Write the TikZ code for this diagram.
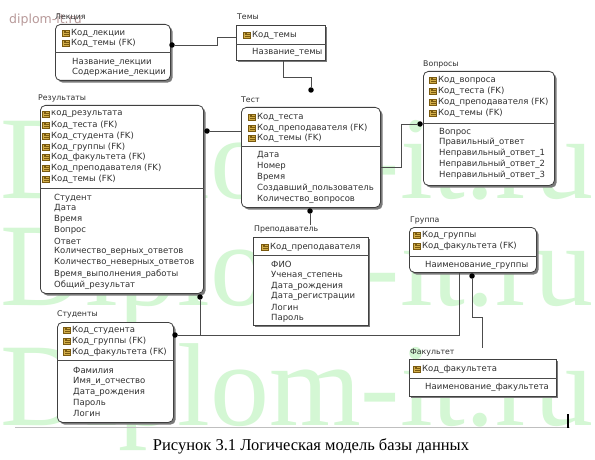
\documentclass[tikz,border=0pt]{standalone}
\usepackage{fontspec}
\setmainfont{DejaVu Sans}
\newfontfamily\capfont{Liberation Serif}
\usetikzlibrary{calc,shadows}
\definecolor{txt}{HTML}{303030}
\definecolor{keyg}{HTML}{D2AE4A}
\definecolor{keyd}{HTML}{7A5A10}
\definecolor{wm}{HTML}{D4F7D4}
\definecolor{shad}{HTML}{7A7A7A}
\definecolor{wmsmall}{HTML}{B89A9A}
\begin{document}
\begin{tikzpicture}[x=1pt,y=-1pt,
  ent/.style={draw=black!75, line width=0.8pt, fill=white, rounded corners=5pt, anchor=north west, inner sep=0,
     drop shadow={shadow xshift=2.2pt, shadow yshift=-2.2pt, fill=shad, opacity=1}},
  sqent/.style={draw=black!75, line width=0.6pt, fill=white, anchor=north west, inner sep=0,
     drop shadow={shadow xshift=1.5pt, shadow yshift=-1.5pt, fill=shad, opacity=1}},
  sep/.style={draw=black!70, line width=0.6pt},
  lbl/.style={anchor=west, inner sep=0, font=\fontsize{7.8}{9}\selectfont, text=txt},
  fld/.style={anchor=west, inner sep=0, font=\fontsize{8.5}{10}\selectfont, text=txt},
  rel/.style={draw=black!70, line width=0.8pt},
  dot/.style={circle, fill=black, inner sep=0, minimum size=5.5pt},
  keyicon/.pic={
    \fill[keyg, draw=keyd, line width=0.3pt] (-3.5,-3) rectangle (3.5,3);
    \fill[keyd] (-2.2,-1.6) rectangle (0.2,0.4);
    \fill[keyd] (0.2,-0.9) rectangle (2.6,-0.1);
    \fill[keyd] (-2.2,1.2) rectangle (2.6,2);
  }]
\useasboundingbox (0,0) rectangle (595,460);
\fill[white] (0,0) rectangle (595,460);
% watermark
\node[anchor=base west, inner sep=0, text=wm, font=\capfont\fontsize{118}{118}\selectfont] (wm1) at (0,198) {Diplom-it.ru};
\node[anchor=base west, inner sep=0, text=wm, font=\capfont\fontsize{118}{118}\selectfont] (wm2) at (0,305) {Diplom-it.ru};
\node[anchor=base west, inner sep=0, text=wm, font=\capfont\fontsize{118}{118}\selectfont] (wm3) at (0,425) {Diplom-it.ru};
\node[anchor=west, inner sep=0, text=wmsmall, font=\fontsize{12.5}{14}\selectfont] (wm0) at (9,20) {diplom-it.ru};

% ---- boxes
\node[ent, minimum width=115pt, minimum height=56pt] (lek) at (55,24) {};
\node[sqent, minimum width=89pt, minimum height=35pt] (tem) at (236,25) {};
\node[ent, minimum width=163pt, minimum height=188pt] (res) at (40,105) {};
\node[ent, minimum width=139pt, minimum height=100pt] (tst) at (241,107) {};
\node[ent, minimum width=131pt, minimum height=114pt] (vop) at (423,71) {};
\node[sqent, minimum width=115pt, minimum height=88pt] (pre) at (253,237) {};
\node[ent, minimum width=127pt, minimum height=45pt] (grp) at (409,227) {};
\node[sqent, minimum width=147pt, minimum height=37pt] (fak) at (409,359) {};
\node[ent, minimum width=116pt, minimum height=100pt] (stu) at (57,322) {};

% ---- separators
\draw[sep] (lek.west |- 0,52) -- (lek.east |- 0,52);
\draw[sep] (tem.west |- 0,44) -- (tem.east |- 0,44);
\draw[sep] (res.west |- 0,188) -- (res.east |- 0,188);
\draw[sep] (tst.west |- 0,146) -- (tst.east |- 0,146);
\draw[sep] (vop.west |- 0,123) -- (vop.east |- 0,123);
\draw[sep] (pre.west |- 0,255) -- (pre.east |- 0,255);
\draw[sep] (grp.west |- 0,256) -- (grp.east |- 0,256);
\draw[sep] (fak.west |- 0,378) -- (fak.east |- 0,378);
\draw[sep] (stu.west |- 0,360) -- (stu.east |- 0,360);

% ---- titles
\node[lbl] (lekT) at (55,17) {Лекция};
\node[lbl] (temT) at (237,17) {Темы};
\node[lbl] (resT) at (38,98) {Результаты};
\node[lbl] (tstT) at (241,100) {Тест};
\node[lbl] (vopT) at (423,64) {Вопросы};
\node[lbl] (preT) at (254,229) {Преподаватель};
\node[lbl] (grpT) at (410,220) {Группа};
\node[lbl] (fakT) at (410,352) {Факультет};
\node[lbl] (stuT) at (57,314) {Студенты};

% ---- Лекция
\pic at (66,33) {keyicon}; \node[fld] (l1) at (71,33) {Код\_лекции};
\pic at (66,43) {keyicon}; \node[fld] (l2) at (71,43) {Код\_темы (FK)};
\node[fld] (l3) at (72,62) {Название\_лекции};
\node[fld] (l4) at (72,72) {Содержание\_лекции};
% ---- Темы
\pic at (247,35) {keyicon}; \node[fld] (t1) at (252,35) {Код\_темы};
\node[fld] (t2) at (252,52) {Название\_темы};
% ---- Результаты
\pic at (46,114) {keyicon}; \node[fld] (r1) at (51,114) {код\_результата};
\pic at (46,125) {keyicon}; \node[fld] (r2) at (51,125) {Код\_теста (FK)};
\pic at (46,136) {keyicon}; \node[fld] (r3) at (51,136) {Код\_студента (FK)};
\pic at (46,147) {keyicon}; \node[fld] (r4) at (51,147) {Код\_группы (FK)};
\pic at (46,157) {keyicon}; \node[fld] (r5) at (51,157) {Код\_факультета (FK)};
\pic at (46,168) {keyicon}; \node[fld] (r6) at (51,168) {Код\_преподавателя (FK)};
\pic at (46,179) {keyicon}; \node[fld] (r7) at (51,179) {Код\_темы (FK)};
\node[fld] (r8) at (54,198) {Студент};
\node[fld] (r9) at (54,208) {Дата};
\node[fld] (r10) at (54,219) {Время};
\node[fld] (r11) at (54,230) {Вопрос};
\node[fld] (r12) at (54,241) {Ответ};
\node[fld] (r13) at (54,251) {Количество\_верных\_ответов};
\node[fld] (r14) at (54,262) {Количество\_неверных\_ответов};
\node[fld] (r15) at (54,274) {Время\_выполнения\_работы};
\node[fld] (r16) at (54,285) {Общий\_результат};
% ---- Тест
\pic at (252,117) {keyicon}; \node[fld] (s1) at (257,117) {Код\_теста};
\pic at (252,128) {keyicon}; \node[fld] (s2) at (257,128) {Код\_преподавателя (FK)};
\pic at (252,138) {keyicon}; \node[fld] (s3) at (257,138) {Код\_темы (FK)};
\node[fld] (s4) at (257,155) {Дата};
\node[fld] (s5) at (257,166) {Номер};
\node[fld] (s6) at (257,177) {Время};
\node[fld] (s7) at (257,188) {Создавший\_пользователь};
\node[fld] (s8) at (257,199) {Количество\_вопросов};
% ---- Вопросы
\pic at (433,80) {keyicon}; \node[fld] (v1) at (438,80) {Код\_вопроса};
\pic at (433,91) {keyicon}; \node[fld] (v2) at (438,91) {Код\_теста (FK)};
\pic at (433,102) {keyicon}; \node[fld] (v3) at (438,102) {Код\_преподавателя (FK)};
\pic at (433,113) {keyicon}; \node[fld] (v4) at (438,113) {Код\_темы (FK)};
\node[fld] (v5) at (439,132) {Вопрос};
\node[fld] (v6) at (439,142) {Правильный\_ответ};
\node[fld] (v7) at (439,153) {Неправильный\_ответ\_1};
\node[fld] (v8) at (439,164) {Неправильный\_ответ\_2};
\node[fld] (v9) at (439,175) {Неправильный\_ответ\_3};
% ---- Преподаватель
\pic at (265,247) {keyicon}; \node[fld] (p1) at (270,247) {Код\_преподавателя};
\node[fld] (p2) at (271,264) {ФИО};
\node[fld] (p3) at (271,275) {Ученая\_степень};
\node[fld] (p4) at (271,286) {Дата\_рождения};
\node[fld] (p5) at (271,296) {Дата\_регистрации};
\node[fld] (p6) at (271,307) {Логин};
\node[fld] (p7) at (271,318) {Пароль};
% ---- Группа
\pic at (417,235) {keyicon}; \node[fld] (g1) at (422,235) {Код\_группы};
\pic at (417,246) {keyicon}; \node[fld] (g2) at (422,246) {Код\_факультета (FK)};
\node[fld] (g3) at (425,265) {Наименование\_группы};
% ---- Факультет
\pic at (417,369) {keyicon}; \node[fld] (f1) at (422,369) {Код\_факультета};
\node[fld] (f2) at (425,387) {Наименование\_факультета};
% ---- Студенты
\pic at (67,330) {keyicon}; \node[fld] (u1) at (72,330) {Код\_студента};
\pic at (67,341) {keyicon}; \node[fld] (u2) at (72,341) {Код\_группы (FK)};
\pic at (67,352) {keyicon}; \node[fld] (u3) at (72,352) {Код\_факультета (FK)};
\node[fld] (u4) at (73,370) {Фамилия};
\node[fld] (u5) at (73,381) {Имя\_и\_отчество};
\node[fld] (u6) at (73,392) {Дата\_рождения};
\node[fld] (u7) at (73,403) {Пароль};
\node[fld] (u8) at (73,413) {Логин};

% ---- connectors
\node[dot] (d1) at (172,45) {};
\draw[rel] (d1) -- (217,45) -- (217,37) -- (tem.west |- 0,37);
\node[dot] (d2) at (311,90) {};
\draw[rel] (tem.south -| 283,0) -- (283,77) -- (311,77) -- (d2);
\node[dot] (d3) at (207,131) {};
\draw[rel] (d3) -- (tst.west |- 0,131);
\node[dot] (d4) at (420,124) {};
\draw[rel] (tst.east |- 0,167) -- (401,167) -- (401,124) -- (d4);
\node[dot] (d5) at (310,211) {};
\draw[rel] (d5) -- (preT.north -| 310,0);
\node[dot] (d6) at (200,297) {};
\node[dot] (d7) at (175,335) {};
\draw[rel] (d6) -- (200,335);
\draw[rel] (d7) -- (459,335) -- (grp.south -| 459,0);
\node[dot] (d8) at (472,276) {};
\draw[rel] (d8) -- (472,317) -- (482,317) -- (fakT.north -| 482,0);

% ---- bottom
\draw[black!25, line width=0.5pt] (15,427) -- (570,427);
\draw[black, line width=1.6pt] (568,414) -- (568,428);
\node[inner sep=0, font=\capfont\fontsize{16.5}{18}\selectfont] (cap) at (311,446) {Рисунок 3.1 Логическая модель базы данных};
\end{tikzpicture}
\end{document}
